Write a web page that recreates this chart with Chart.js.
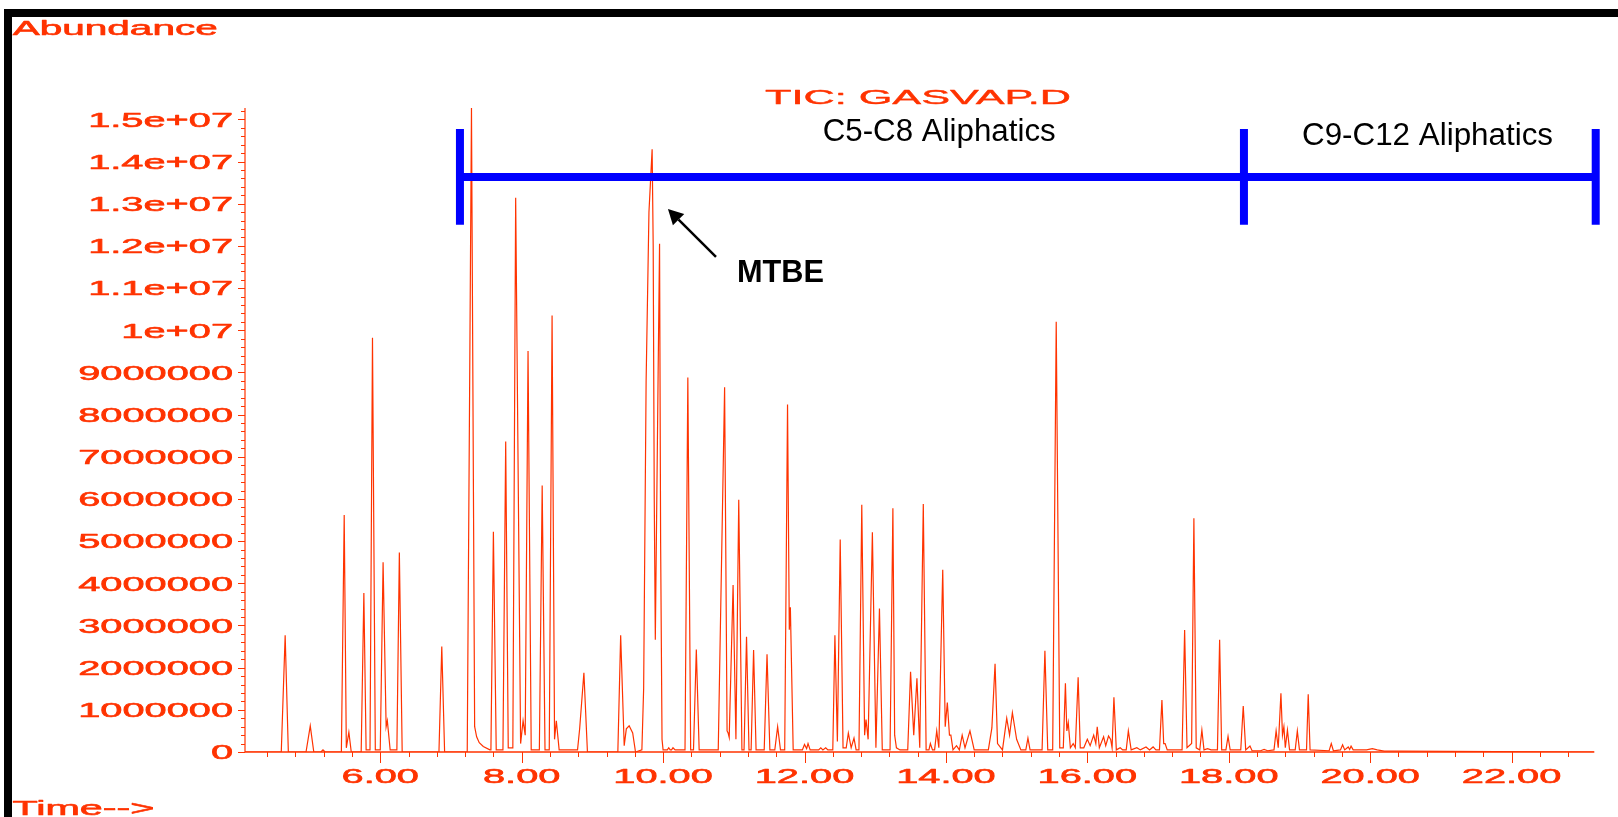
<!DOCTYPE html>
<html>
<head>
<meta charset="utf-8">
<script src="https://cdn.jsdelivr.net/npm/chart.js@4"></script>
<style>
html,body{margin:0;padding:0;background:#fff;}
canvas{display:block;}
</style>
</head>
<body>
<canvas id="c" width="1618" height="817"></canvas>
<script>
// ---- Data (time in minutes, abundance in millions of counts) ----
const times = [
4.087,4.60,4.655,4.70,4.95,5.01,5.06,5.16,5.19,5.22,
5.45,5.49,5.52,5.556,5.59,5.73,5.768,5.80,5.855,5.89,5.93,6.00,6.04,6.083,6.10,6.14,6.235,6.27,6.31,
6.83,6.87,6.91,
7.23,7.29,7.335,7.363,7.40,7.457,7.55,7.565,7.60,7.64,7.735,7.774,7.81,7.875,7.915,7.985,8.02,8.05,8.09,8.135,
8.25,8.29,8.33,8.39,8.43,8.465,8.49,8.53,8.79,8.82,8.88,8.93,
9.36,9.40,9.45,9.48,9.52,9.57,9.61,
9.70,9.725,9.76,9.80,9.845,9.86,9.875,9.89,9.93,9.95,9.965,9.985,10.00,
10.06,10.08,10.10,10.12,10.14,10.17,10.31,10.35,10.39,10.43,10.47,10.51,
10.78,10.87,10.905,10.92,10.935,10.99,11.03,11.07,11.115,11.145,11.18,11.215,11.245,11.28,11.315,
11.43,11.47,11.51,11.58,11.62,11.66,11.72,11.76,11.785,11.80,11.84,
11.97,12.00,12.03,12.05,12.08,12.20,12.23,12.26,12.30,12.33,
12.40,12.43,12.465,12.505,12.545,12.59,12.62,12.66,12.70,12.73,12.77,12.81,12.85,12.87,12.90,12.96,13.01,13.06,13.10,
13.21,13.25,13.275,13.30,13.35,
13.46,13.50,13.545,13.59,13.63,13.68,13.72,13.76,13.78,13.81,13.84,13.87,13.90,13.955,13.99,14.02,14.05,14.07,14.10,
14.15,14.19,14.23,14.27,14.34,14.40,
14.60,14.65,14.695,14.73,14.80,14.86,14.90,14.94,15.00,15.06,15.13,15.16,15.19,
15.36,15.40,15.44,15.51,15.56,15.61,15.66,15.69,15.71,15.73,15.76,15.80,15.83,15.87,15.90,15.95,16.00,16.04,16.09,16.12,16.14,16.17,
16.23,16.26,16.30,16.33,16.35,16.376,16.41,16.465,16.50,16.55,16.58,16.62,16.70,16.75,16.83,16.88,16.93,16.97,
17.02,17.055,17.08,17.10,17.13,17.34,17.376,17.41,17.475,17.507,17.54,17.59,17.62,17.65,17.70,17.75,
17.84,17.871,17.90,17.96,17.99,18.02,18.17,18.205,18.24,18.30,18.33,18.45,18.50,18.55,
18.64,18.67,18.70,18.738,18.76,18.78,18.80,18.83,18.86,18.94,18.97,19.00,19.10,19.124,19.15,
19.42,19.45,19.48,19.58,19.61,19.64,19.69,19.71,19.73,19.76,19.95,20.03,20.10,20.20,20.40,23.17
];
const abundanceMillions = [
0,0,2.77,0,0,0.62,0,0,0.05,0,
0,5.62,0.10,0.47,0,0,3.77,0.05,0.05,9.82,0.05,0.05,4.50,0.60,0.74,0.05,0.05,4.73,0,
0,2.50,0,
0,15.27,0.60,0.36,0.22,0.13,0.05,0.05,5.22,0.05,0.05,7.36,0.10,0.10,13.14,0.20,0.74,0.40,9.51,0.05,
0.05,6.32,0.05,0.05,10.35,0.30,0.74,0.05,0.05,0.55,1.88,0,
0,2.77,0.15,0.55,0.62,0.45,0,
0.05,1.50,8.80,12.80,14.29,12.00,6.00,2.66,9.00,12.05,5.00,0.30,0.05,
0.05,0.10,0.05,0.05,0.10,0.05,0.05,8.88,0.05,0.05,2.43,0.05,
0.05,8.65,0.50,0.45,0.35,3.96,0.30,5.98,0.05,0.05,2.73,0.05,0.05,2.42,0.05,
0.05,2.32,0.05,0.05,0.60,0.05,0.05,8.24,2.90,3.43,0.05,
0.05,0.18,0.08,0.20,0.05,0.05,0.10,0.05,0.10,0.05,
0.05,2.77,0.25,5.04,0.10,0.10,0.45,0.10,0.33,0.05,0.05,5.86,0.40,0.77,0.30,5.21,0.10,3.40,0.05,
0.05,5.78,0.40,0.10,0.05,
0.05,1.90,0.40,1.75,0.10,5.88,0.05,0.05,0.20,0.05,0.05,0.50,0.10,4.32,0.60,1.17,0.40,0.40,0.05,
0.15,0.05,0.40,0.10,0.50,0.05,
0.05,0.57,2.09,0.20,0.05,0.80,0.40,0.93,0.30,0.05,0.05,0.33,0.05,
0.05,2.40,0.05,0.05,10.20,0.10,0.10,1.63,0.50,0.70,0.10,0.20,0.10,1.77,0.10,0.10,0.30,0.15,0.40,0.20,0.60,0.10,
0.36,0.15,0.38,0.30,0.10,1.30,0.05,0.10,0.05,0.05,0.50,0.05,0.10,0.05,0.12,0.05,0.12,0.05,
0.05,1.23,0.20,0.20,0.05,0.05,2.89,0.10,0.20,5.54,0.10,0.05,0.52,0.05,0.08,0.05,
0.05,2.66,0.05,0.05,0.37,0.05,0.05,1.09,0.05,0.14,0.03,0.03,0.06,0.03,
0.05,0.50,0.10,1.39,0.40,0.60,0.10,0.52,0.05,0.05,0.50,0.05,0.05,1.37,0.05,
0.03,0.20,0.03,0.05,0.17,0.05,0.12,0.06,0.14,0.05,0.05,0.08,0.05,0.02,0.02,0
];
const xTickValues = [6,8,10,12,14,16,18,20,22];
const xTickLabels = ["6.00","8.00","10.00","12.00","14.00","16.00","18.00","20.00","22.00"];
const yTickValues = [0,1,2,3,4,5,6,7,8,9,10,11,12,13,14,15];
const yTickLabels = ["0","1000000","2000000","3000000","4000000","5000000","6000000","7000000","8000000","9000000","1e+07","1.1e+07","1.2e+07","1.3e+07","1.4e+07","1.5e+07"];
// Range annotation (times in minutes, levels in millions)
const bracketTimes = [7.127, 18.215, 23.19];
const bracketLevel = 13.635, bracketTop = 14.77, bracketBottom = 12.50;
const rangeLabels = ["C5-C8 Aliphatics", "C9-C12 Aliphatics"];

const RED = '#ff3300';
const FONT = '"Liberation Sans", Arial, sans-serif';

function drawText(ctx, text, x, y, font, sx, align, color, stroke) {
  ctx.save();
  ctx.font = font;
  ctx.fillStyle = color;
  const w = ctx.measureText(text).width * sx;
  const left = align === 'center' ? x - w / 2 : (align === 'right' ? x - w : x);
  ctx.translate(left, y);
  ctx.scale(sx, 1);
  ctx.textAlign = 'left';
  ctx.textBaseline = 'alphabetic';
  ctx.fillText(text, 0, 0);
  if (stroke) {
    ctx.strokeStyle = color;
    ctx.lineWidth = stroke;
    ctx.lineJoin = 'round';
    ctx.strokeText(text, 0, 0);
  }
  ctx.restore();
}
function fitText(ctx, text, x, y, font, width, color, stroke) {
  ctx.save();
  ctx.font = font;
  const m = ctx.measureText(text).width;
  ctx.restore();
  drawText(ctx, text, x, y, font, width / m, 'left', color, stroke);
}

const decor = {
  id: 'decor',
  afterDraw(chart) {
    const ctx = chart.ctx;
    const xs = chart.scales.x, ys = chart.scales.y;
    const ca = chart.chartArea;
    ctx.save();
    // black frame (top and left)
    ctx.fillStyle = '#000';
    ctx.fillRect(4, 9, 1614, 8);
    ctx.fillRect(4, 9, 8, 808);

    // axes
    const y0 = ys.getPixelForValue(0);
    ctx.strokeStyle = RED;
    ctx.lineWidth = 1.5;
    ctx.beginPath();
    ctx.moveTo(ca.left, y0); ctx.lineTo(ca.right, y0);
    ctx.stroke();
    ctx.lineWidth = 1.2;
    ctx.beginPath();
    ctx.moveTo(ca.left, ca.top); ctx.lineTo(ca.left, y0);
    ctx.stroke();

    // x ticks every 0.4 min
    ctx.lineWidth = 1;
    for (let i = 11; i <= 57; i++) {
      const t = i * 0.4;
      if (t < xs.min || t > xs.max) continue;
      const px = Math.round(xs.getPixelForValue(t)) + 0.5;
      const major = Math.abs(t / 2 - Math.round(t / 2)) < 1e-6;
      ctx.beginPath();
      ctx.moveTo(px, y0); ctx.lineTo(px, y0 + (major ? 11 : 5));
      ctx.stroke();
    }
    // y ticks every 0.2 million
    for (let i = 0; i <= 76; i++) {
      const v = i * 0.2;
      if (v > ys.max) continue;
      const py = Math.round(ys.getPixelForValue(v)) + 0.5;
      const major = i % 5 === 0;
      ctx.beginPath();
      ctx.moveTo(ca.left, py); ctx.lineTo(ca.left - (major ? 7 : 4), py);
      ctx.stroke();
    }
    // tick labels
    const tickFont = '20.5px ' + FONT;
    xTickValues.forEach((t, i) => {
      drawText(ctx, xTickLabels[i], xs.getPixelForValue(t), 782.5, tickFont, 1.94, 'center', RED, 0.6);
    });
    yTickValues.forEach((v, i) => {
      drawText(ctx, yTickLabels[i], 233, ys.getPixelForValue(v) + 7.3, tickFont, 1.94, 'right', RED, 0.6);
    });

    // header texts
    fitText(ctx, 'Abundance', 12.7, 35, '20px ' + FONT, 205, RED, 0.6);
    fitText(ctx, 'Time-->', 12.5, 815, '20px ' + FONT, 142, RED, 0.6);
    fitText(ctx, 'TIC: GASVAP.D', 765, 104.3, '20px ' + FONT, 306, RED, 0.4);

    // range bracket
    const bx = bracketTimes.map(t => xs.getPixelForValue(t));
    const by = ys.getPixelForValue(bracketLevel);
    const bt = ys.getPixelForValue(bracketTop), bb = ys.getPixelForValue(bracketBottom);
    ctx.strokeStyle = '#0000ff';
    ctx.lineWidth = 8;
    ctx.lineCap = 'butt';
    ctx.beginPath();
    ctx.moveTo(bx[0], by); ctx.lineTo(bx[2], by);
    bx.forEach(x => { ctx.moveTo(x, bt); ctx.lineTo(x, bb); });
    ctx.stroke();

    fitText(ctx, rangeLabels[0], 822.7, 141, '31px ' + FONT, 233, '#000');
    fitText(ctx, rangeLabels[1], 1302, 145, '31px ' + FONT, 251, '#000');

    // MTBE arrow
    const tipX = xs.getPixelForValue(10.069), tipY = ys.getPixelForValue(12.876);
    const tailX = xs.getPixelForValue(10.748), tailY = ys.getPixelForValue(11.738);
    const ang = Math.atan2(tipY - tailY, tipX - tailX);
    const hl = 15, hw = 8;
    const baseX = tipX - hl * Math.cos(ang), baseY = tipY - hl * Math.sin(ang);
    ctx.strokeStyle = '#000';
    ctx.fillStyle = '#000';
    ctx.lineWidth = 2.5;
    ctx.beginPath();
    ctx.moveTo(tailX, tailY); ctx.lineTo(baseX, baseY);
    ctx.stroke();
    ctx.beginPath();
    ctx.moveTo(tipX, tipY);
    ctx.lineTo(baseX + hw * Math.sin(ang), baseY - hw * Math.cos(ang));
    ctx.lineTo(baseX - hw * Math.sin(ang), baseY + hw * Math.cos(ang));
    ctx.closePath();
    ctx.fill();
    fitText(ctx, 'MTBE', 737, 282, 'bold 31px ' + FONT, 87, '#000');
    ctx.restore();
  }
};

const points = times.map((t, i) => ({ x: t, y: abundanceMillions[i] }));

new Chart(document.getElementById('c'), {
  type: 'line',
  data: {
    datasets: [{
      data: points,
      borderColor: RED,
      borderWidth: 1.2,
      pointRadius: 0,
      tension: 0,
      fill: false
    }]
  },
  options: {
    responsive: false,
    animation: false,
    devicePixelRatio: 1,
    parsing: true,
    layout: { padding: { left: 245, right: 23.7, top: 108, bottom: 65 } },
    scales: {
      x: { type: 'linear', min: 4.087, max: 23.17, display: false },
      y: { type: 'linear', min: 0, max: 15.27, display: false }
    },
    plugins: { legend: { display: false }, tooltip: { enabled: false } }
  },
  plugins: [decor]
});
</script>
</body>
</html>
